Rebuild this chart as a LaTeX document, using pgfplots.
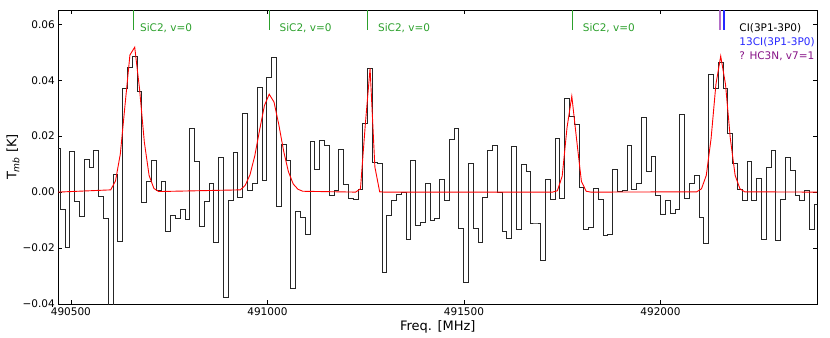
\documentclass[border=0pt]{standalone}
\usepackage{fontspec}
\setmainfont{DejaVu Sans}
\usepackage{pgfplots}
\pgfplotsset{compat=1.18}
\definecolor{sicgreen}{RGB}{44,160,44}
\definecolor{ciblue}{RGB}{40,40,255}
\definecolor{hcpurple}{RGB}{135,20,135}
\definecolor{hcline}{RGB}{180,110,200}
\begin{document}
\begin{tikzpicture}
\path[use as bounding box] (0,0) rectangle (830bp,338bp);
\begin{axis}[
  at={(58.3bp,34bp)}, anchor=south west,
  scale only axis, width=759bp, height=294bp,
  xmin=490468, xmax=492399, ymin=-0.04, ymax=0.0651,
  xtick={490500,491000,491500,492000},
  xticklabels={490500,491000,491500,492000},
  ytick={-0.04,-0.02,0,0.02,0.04,0.06},
  yticklabels={−0.04,−0.02,0.00,0.02,0.04,0.06},
  scaled ticks=false,
  tick align=inside,
  major tick length=4bp,
  every tick/.style={black, line width=0.6bp},
  axis line style={line width=0.8bp},
  ticklabel style={font=\fontsize{10.5bp}{12bp}\selectfont},
  label style={font=\fontsize{13bp}{15bp}\selectfont},
  xlabel={Freq. [MHz]},
  ylabel={T\textsubscript{\itshape mb} [K]},
  xlabel style={at={(axis description cs:0.5,-0.0772)}, anchor=center},
  ylabel style={at={(axis description cs:-0.0597,0.5)}, anchor=center},
]
% observed spectrum (left channel edges, T_mb)
\addplot[const plot, black!85, line width=1bp] table {
x y
490460.78 0.0157
490473.00 -0.0061
490485.22 -0.0197
490497.44 0.0144
490509.66 -0.0034
490521.88 -0.0088
490534.10 0.0118
490546.32 0.0088
490558.54 0.0147
490570.76 -0.0014
490582.98 -0.0094
490595.20 -0.0450
490607.42 0.0064
490619.64 -0.0178
490631.86 0.0371
490644.08 0.0444
490656.30 0.0484
490668.52 0.0360
490680.74 -0.0037
490692.96 0.0038
490705.18 0.0113
490717.40 0.0007
490729.62 0.0038
490741.84 -0.0140
490754.06 -0.0082
490766.28 -0.0093
490778.50 -0.0061
490790.72 -0.0099
490802.94 0.0227
490815.16 0.0108
490827.38 -0.0122
490839.60 -0.0033
490851.82 0.0032
490864.04 -0.0180
490876.26 0.0124
490888.48 -0.0375
490900.70 -0.0031
490912.92 0.0140
490925.14 -0.0019
490937.36 0.0280
490949.58 0.0007
490961.80 0.0029
490974.02 0.0373
490986.24 0.0040
490998.46 0.0411
491010.68 0.0480
491022.90 -0.0051
491035.12 0.0171
491047.34 0.0112
491059.56 -0.0343
491071.78 -0.0069
491084.00 -0.0090
491096.22 -0.0152
491108.44 0.0181
491120.66 0.0080
491132.88 0.0183
491145.10 0.0165
491157.32 -0.0011
491169.54 0.0005
491181.76 0.0153
491193.98 0.0028
491206.20 -0.0022
491218.42 -0.0027
491230.64 0.0008
491242.86 0.0247
491255.08 0.0442
491267.30 0.0106
491279.52 0.0104
491291.74 -0.0286
491303.96 -0.0084
491316.18 -0.0030
491328.40 -0.0010
491340.62 -0.0002
491352.84 -0.0168
491365.06 0.0114
491377.28 -0.0120
491389.50 -0.0108
491401.72 0.0029
491413.94 -0.0102
491426.16 -0.0093
491438.38 0.0046
491450.60 -0.0031
491462.82 0.0189
491475.04 0.0228
491487.26 -0.0129
491499.48 -0.0322
491511.70 0.0102
491523.92 -0.0130
491536.14 -0.0180
491548.36 -0.0020
491560.58 0.0147
491572.80 0.0165
491585.02 0.0000
491597.24 -0.0140
491609.46 -0.0165
491621.68 0.0163
491633.90 -0.0132
491646.12 0.0098
491658.34 0.0075
491670.56 -0.0114
491682.78 -0.0114
491695.00 -0.0246
491707.22 0.0044
491719.44 -0.0028
491731.66 0.0193
491743.88 -0.0022
491756.10 0.0335
491768.32 0.0272
491780.54 0.0243
491792.76 0.0016
491804.98 -0.0134
491817.20 -0.0126
491829.42 0.0013
491841.64 -0.0025
491853.86 -0.0156
491866.08 -0.0150
491878.30 0.0082
491890.52 0.0003
491902.74 0.0005
491914.96 0.0166
491927.18 0.0011
491939.40 0.0029
491951.62 0.0268
491963.84 0.0074
491976.06 0.0126
491988.28 -0.0011
492000.50 -0.0079
492012.72 -0.0031
492024.94 -0.0078
492037.16 -0.0061
492049.38 0.0278
492061.60 -0.0023
492073.82 0.0032
492086.04 0.0058
492098.26 -0.0092
492110.48 -0.0183
492122.70 0.0420
492134.92 0.0369
492147.14 0.0464
492159.36 0.0369
492171.58 0.0210
492183.80 0.0104
492196.02 0.0011
492208.24 -0.0030
492220.46 0.0109
492232.68 -0.0029
492244.90 0.0050
492257.12 -0.0171
492269.34 0.0088
492281.56 0.0147
492293.78 -0.0173
492306.00 -0.0027
492318.22 0.0124
492330.44 0.0076
492342.66 -0.0013
492354.88 -0.0029
492367.10 0.0007
492379.32 -0.0132
492391.54 -0.0045
492403.76 -0.0045
};
% Gaussian fit (channel centres)
\addplot[red, line width=0.9bp] table {
x y
490466.89 0
490601.31 0.0008
490613.53 0.0040
490625.75 0.0136
490637.97 0.0314
490650.19 0.0490
490662.41 0.0518
490674.63 0.0370
490686.85 0.0179
490699.07 0.0059
490711.29 0.0013
490723.51 0.0002
490931.25 0.0008
490943.47 0.0024
490955.69 0.0062
490967.91 0.0130
490980.13 0.0222
490992.35 0.0309
491004.57 0.0350
491016.79 0.0322
491029.01 0.0241
491041.23 0.0147
491053.45 0.0073
491065.67 0.0029
491077.89 0.0010
491090.11 0.0003
491224.53 0
491236.75 0.0012
491248.97 0.0240
491261.19 0.0442
491273.41 0.0090
491285.63 0.0001
491297.85 0
491725.55 0
491737.77 0.0005
491749.99 0.0057
491762.21 0.0230
491774.43 0.0343
491786.65 0.0188
491798.87 0.0038
491811.09 0.0003
491823.31 0
492092.15 0.0001
492104.37 0.0012
492116.59 0.0060
492128.81 0.0192
492141.03 0.0385
492153.25 0.0486
492165.47 0.0385
492177.69 0.0192
492189.91 0.0060
492202.13 0.0012
492214.35 0.0001
492397.65 0
};
% line identifications
\addplot[sicgreen, line width=1bp] coordinates {(490659.5,0.0651) (490659.5,0.058)};
\addplot[sicgreen, line width=1bp] coordinates {(491004.6,0.0651) (491004.6,0.058)};
\addplot[sicgreen, line width=1bp] coordinates {(491254.0,0.0651) (491254.0,0.058)};
\addplot[sicgreen, line width=1bp] coordinates {(491776.6,0.0651) (491776.6,0.058)};
\addplot[black, line width=1.5bp] coordinates {(492160.65,0.0651) (492160.65,0.058)};
\addplot[hcline, line width=2bp] coordinates {(492151.0,0.0651) (492151.0,0.058)};
\addplot[ciblue, line width=2bp] coordinates {(492160.9,0.0651) (492160.9,0.058)};
\begin{scope}[every node/.style={anchor=west, inner sep=0pt, font=\fontsize{10.5bp}{12bp}\selectfont}]
\node[text=sicgreen] at (axis cs:490675.6,0.0585) {SiC2, v=0};
\node[text=sicgreen] at (axis cs:491030.5,0.0585) {SiC2, v=0};
\node[text=sicgreen] at (axis cs:491281.2,0.0585) {SiC2, v=0};
\node[text=sicgreen] at (axis cs:491802.0,0.0585) {SiC2, v=0};
\node[text=black] at (axis cs:492200.5,0.0585) {CI(3P1-3P0)};
\node[text=ciblue] at (axis cs:492200.5,0.0536) {13CI(3P1-3P0)};
\node[text=hcpurple] at (axis cs:492200.5,0.0486) {? HC3N, v7=1};
\end{scope}
\end{axis}
\end{tikzpicture}
\end{document}
